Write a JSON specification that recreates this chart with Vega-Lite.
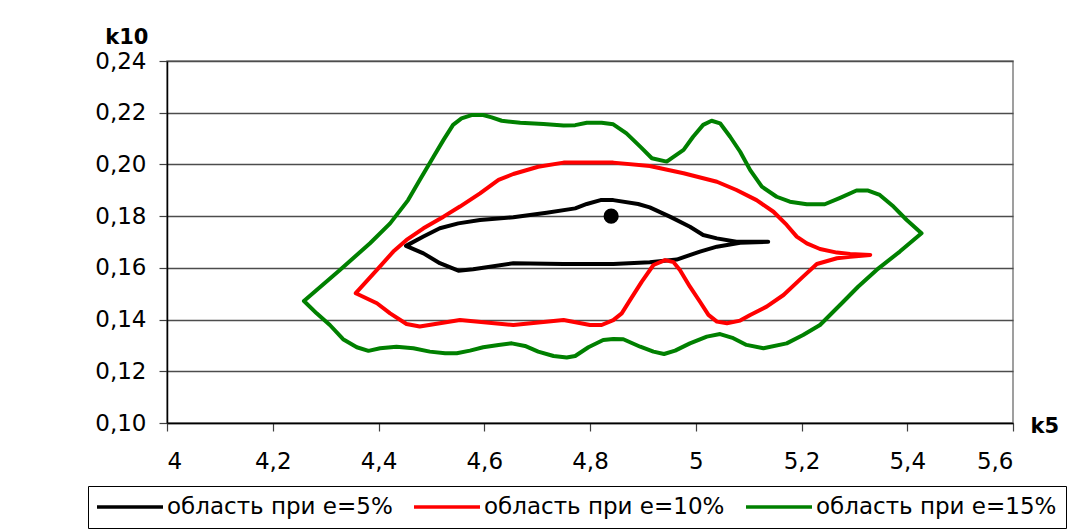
{
  "$schema": "https://vega.github.io/schema/vega-lite/v6.json",
  "width": 846,
  "height": 362,
  "autosize": "none",
  "padding": {"left": 167, "top": 61, "right": 54, "bottom": 106},
  "background": "white",
  "config": {
    "font": "DejaVu Sans",
    "view": {"stroke": "#808080", "strokeWidth": 1.5}
  },
  "datasets": {
    "contours": [
      {"s": "область при е=5%", "i": 1, "x": 4.452, "y": 0.1685},
      {"s": "область при е=5%", "i": 2, "x": 4.485, "y": 0.1721},
      {"s": "область при е=5%", "i": 3, "x": 4.516, "y": 0.1753},
      {"s": "область при е=5%", "i": 4, "x": 4.551, "y": 0.1772},
      {"s": "область при е=5%", "i": 5, "x": 4.592, "y": 0.1785},
      {"s": "область при е=5%", "i": 6, "x": 4.655, "y": 0.1796},
      {"s": "область при е=5%", "i": 7, "x": 4.718, "y": 0.1813},
      {"s": "область при е=5%", "i": 8, "x": 4.772, "y": 0.183},
      {"s": "область при е=5%", "i": 9, "x": 4.794, "y": 0.1847},
      {"s": "область при е=5%", "i": 10, "x": 4.82, "y": 0.1862},
      {"s": "область при е=5%", "i": 11, "x": 4.844, "y": 0.1862},
      {"s": "область при е=5%", "i": 12, "x": 4.891, "y": 0.1847},
      {"s": "область при е=5%", "i": 13, "x": 4.913, "y": 0.1834},
      {"s": "область при е=5%", "i": 14, "x": 4.951, "y": 0.1798},
      {"s": "область при е=5%", "i": 15, "x": 4.989, "y": 0.1759},
      {"s": "область при е=5%", "i": 16, "x": 5.014, "y": 0.1727},
      {"s": "область при е=5%", "i": 17, "x": 5.04, "y": 0.1714},
      {"s": "область при е=5%", "i": 18, "x": 5.077, "y": 0.1701},
      {"s": "область при е=5%", "i": 19, "x": 5.137, "y": 0.1701},
      {"s": "область при е=5%", "i": 20, "x": 5.084, "y": 0.1697},
      {"s": "область при е=5%", "i": 21, "x": 5.04, "y": 0.1682},
      {"s": "область при е=5%", "i": 22, "x": 5.008, "y": 0.1663},
      {"s": "область при е=5%", "i": 23, "x": 4.964, "y": 0.1632},
      {"s": "область при е=5%", "i": 24, "x": 4.913, "y": 0.1622},
      {"s": "область при е=5%", "i": 25, "x": 4.844, "y": 0.1615},
      {"s": "область при е=5%", "i": 26, "x": 4.75, "y": 0.1615},
      {"s": "область при е=5%", "i": 27, "x": 4.655, "y": 0.1618},
      {"s": "область при е=5%", "i": 28, "x": 4.579, "y": 0.1595},
      {"s": "область при е=5%", "i": 29, "x": 4.551, "y": 0.1589},
      {"s": "область при е=5%", "i": 30, "x": 4.516, "y": 0.1618},
      {"s": "область при е=5%", "i": 31, "x": 4.485, "y": 0.1656},
      {"s": "область при е=5%", "i": 32, "x": 4.452, "y": 0.1685},

      {"s": "область при е=10%", "i": 1, "x": 4.357, "y": 0.1502},
      {"s": "область при е=10%", "i": 2, "x": 4.397, "y": 0.1592},
      {"s": "область при е=10%", "i": 3, "x": 4.428, "y": 0.1663},
      {"s": "область при е=10%", "i": 4, "x": 4.453, "y": 0.1708},
      {"s": "область при е=10%", "i": 5, "x": 4.485, "y": 0.1753},
      {"s": "область при е=10%", "i": 6, "x": 4.523, "y": 0.1798},
      {"s": "область при е=10%", "i": 7, "x": 4.554, "y": 0.1837},
      {"s": "область при е=10%", "i": 8, "x": 4.592, "y": 0.1888},
      {"s": "область при е=10%", "i": 9, "x": 4.627, "y": 0.194},
      {"s": "область при е=10%", "i": 10, "x": 4.655, "y": 0.1963},
      {"s": "область при е=10%", "i": 11, "x": 4.702, "y": 0.1991},
      {"s": "область при е=10%", "i": 12, "x": 4.75, "y": 0.2007},
      {"s": "область при е=10%", "i": 13, "x": 4.844, "y": 0.2007},
      {"s": "область при е=10%", "i": 14, "x": 4.913, "y": 0.1994},
      {"s": "область при е=10%", "i": 15, "x": 4.977, "y": 0.1966},
      {"s": "область при е=10%", "i": 16, "x": 5.04, "y": 0.1933},
      {"s": "область при е=10%", "i": 17, "x": 5.077, "y": 0.1901},
      {"s": "область при е=10%", "i": 18, "x": 5.115, "y": 0.1862},
      {"s": "область при е=10%", "i": 19, "x": 5.147, "y": 0.1817},
      {"s": "область при е=10%", "i": 20, "x": 5.172, "y": 0.1766},
      {"s": "область при е=10%", "i": 21, "x": 5.191, "y": 0.1721},
      {"s": "область при е=10%", "i": 22, "x": 5.21, "y": 0.1695},
      {"s": "область при е=10%", "i": 23, "x": 5.235, "y": 0.1673},
      {"s": "область при е=10%", "i": 24, "x": 5.267, "y": 0.1659},
      {"s": "область при е=10%", "i": 25, "x": 5.292, "y": 0.1654},
      {"s": "область при е=10%", "i": 26, "x": 5.33, "y": 0.165},
      {"s": "область при е=10%", "i": 27, "x": 5.292, "y": 0.1643},
      {"s": "область при е=10%", "i": 28, "x": 5.267, "y": 0.1637},
      {"s": "область при е=10%", "i": 29, "x": 5.229, "y": 0.1615},
      {"s": "область при е=10%", "i": 30, "x": 5.203, "y": 0.1566},
      {"s": "область при е=10%", "i": 31, "x": 5.166, "y": 0.1495},
      {"s": "область при е=10%", "i": 32, "x": 5.134, "y": 0.145},
      {"s": "область при е=10%", "i": 33, "x": 5.103, "y": 0.1418},
      {"s": "область при е=10%", "i": 34, "x": 5.084, "y": 0.1396},
      {"s": "область при е=10%", "i": 35, "x": 5.059, "y": 0.1386},
      {"s": "область при е=10%", "i": 36, "x": 5.04, "y": 0.1392},
      {"s": "область при е=10%", "i": 37, "x": 5.024, "y": 0.1418},
      {"s": "область при е=10%", "i": 38, "x": 5.008, "y": 0.1469},
      {"s": "область при е=10%", "i": 39, "x": 4.989, "y": 0.1527},
      {"s": "область при е=10%", "i": 40, "x": 4.97, "y": 0.1592},
      {"s": "область при е=10%", "i": 41, "x": 4.958, "y": 0.1622},
      {"s": "область при е=10%", "i": 42, "x": 4.942, "y": 0.163},
      {"s": "область при е=10%", "i": 43, "x": 4.92, "y": 0.1611},
      {"s": "область при е=10%", "i": 44, "x": 4.898, "y": 0.1547},
      {"s": "область при е=10%", "i": 45, "x": 4.876, "y": 0.1476},
      {"s": "область при е=10%", "i": 46, "x": 4.86, "y": 0.1424},
      {"s": "область при е=10%", "i": 47, "x": 4.844, "y": 0.1398},
      {"s": "область при е=10%", "i": 48, "x": 4.822, "y": 0.1379},
      {"s": "область при е=10%", "i": 49, "x": 4.8, "y": 0.1379},
      {"s": "область при е=10%", "i": 50, "x": 4.75, "y": 0.1398},
      {"s": "область при е=10%", "i": 51, "x": 4.655, "y": 0.1379},
      {"s": "область при е=10%", "i": 52, "x": 4.554, "y": 0.1398},
      {"s": "область при е=10%", "i": 53, "x": 4.478, "y": 0.1373},
      {"s": "область при е=10%", "i": 54, "x": 4.453, "y": 0.1383},
      {"s": "область при е=10%", "i": 55, "x": 4.422, "y": 0.1424},
      {"s": "область при е=10%", "i": 56, "x": 4.397, "y": 0.1463},
      {"s": "область при е=10%", "i": 57, "x": 4.357, "y": 0.1502},

      {"s": "область при е=15%", "i": 1, "x": 4.259, "y": 0.1472},
      {"s": "область при е=15%", "i": 2, "x": 4.327, "y": 0.1592},
      {"s": "область при е=15%", "i": 3, "x": 4.384, "y": 0.1695},
      {"s": "область при е=15%", "i": 4, "x": 4.422, "y": 0.1772},
      {"s": "область при е=15%", "i": 5, "x": 4.456, "y": 0.1862},
      {"s": "область при е=15%", "i": 6, "x": 4.478, "y": 0.194},
      {"s": "область при е=15%", "i": 7, "x": 4.504, "y": 0.203},
      {"s": "область при е=15%", "i": 8, "x": 4.523, "y": 0.2095},
      {"s": "область при е=15%", "i": 9, "x": 4.541, "y": 0.2153},
      {"s": "область при е=15%", "i": 10, "x": 4.557, "y": 0.2178},
      {"s": "область при е=15%", "i": 11, "x": 4.576, "y": 0.2191},
      {"s": "область при е=15%", "i": 12, "x": 4.598, "y": 0.2191},
      {"s": "область при е=15%", "i": 13, "x": 4.614, "y": 0.2182},
      {"s": "область при е=15%", "i": 14, "x": 4.633, "y": 0.2169},
      {"s": "область при е=15%", "i": 15, "x": 4.668, "y": 0.2161},
      {"s": "область при е=15%", "i": 16, "x": 4.712, "y": 0.2156},
      {"s": "область при е=15%", "i": 17, "x": 4.75, "y": 0.2151},
      {"s": "область при е=15%", "i": 18, "x": 4.772, "y": 0.2152},
      {"s": "область при е=15%", "i": 19, "x": 4.794, "y": 0.2161},
      {"s": "область при е=15%", "i": 20, "x": 4.822, "y": 0.2161},
      {"s": "область при е=15%", "i": 21, "x": 4.844, "y": 0.2155},
      {"s": "область при е=15%", "i": 22, "x": 4.869, "y": 0.212},
      {"s": "область при е=15%", "i": 23, "x": 4.895, "y": 0.2069},
      {"s": "область при е=15%", "i": 24, "x": 4.917, "y": 0.2024},
      {"s": "область при е=15%", "i": 25, "x": 4.945, "y": 0.2011},
      {"s": "область при е=15%", "i": 26, "x": 4.977, "y": 0.2056},
      {"s": "область при е=15%", "i": 27, "x": 4.995, "y": 0.2107},
      {"s": "область при е=15%", "i": 28, "x": 5.014, "y": 0.2153},
      {"s": "область при е=15%", "i": 29, "x": 5.03, "y": 0.2169},
      {"s": "область при е=15%", "i": 30, "x": 5.046, "y": 0.2159},
      {"s": "область при е=15%", "i": 31, "x": 5.065, "y": 0.2107},
      {"s": "область при е=15%", "i": 32, "x": 5.084, "y": 0.2049},
      {"s": "область при е=15%", "i": 33, "x": 5.103, "y": 0.1978},
      {"s": "область при е=15%", "i": 34, "x": 5.125, "y": 0.1914},
      {"s": "область при е=15%", "i": 35, "x": 5.153, "y": 0.1875},
      {"s": "область при е=15%", "i": 36, "x": 5.178, "y": 0.1856},
      {"s": "область при е=15%", "i": 37, "x": 5.21, "y": 0.1846},
      {"s": "область при е=15%", "i": 38, "x": 5.244, "y": 0.1846},
      {"s": "область при е=15%", "i": 39, "x": 5.273, "y": 0.1871},
      {"s": "область при е=15%", "i": 40, "x": 5.304, "y": 0.1899},
      {"s": "область при е=15%", "i": 41, "x": 5.326, "y": 0.1899},
      {"s": "область при е=15%", "i": 42, "x": 5.348, "y": 0.1882},
      {"s": "область при е=15%", "i": 43, "x": 5.374, "y": 0.1837},
      {"s": "область при е=15%", "i": 44, "x": 5.399, "y": 0.1785},
      {"s": "область при е=15%", "i": 45, "x": 5.427, "y": 0.1734},
      {"s": "область при е=15%", "i": 46, "x": 5.386, "y": 0.1663},
      {"s": "область при е=15%", "i": 47, "x": 5.342, "y": 0.1592},
      {"s": "область при е=15%", "i": 48, "x": 5.307, "y": 0.1527},
      {"s": "область при е=15%", "i": 49, "x": 5.279, "y": 0.1469},
      {"s": "область при е=15%", "i": 50, "x": 5.235, "y": 0.1379},
      {"s": "область при е=15%", "i": 51, "x": 5.203, "y": 0.134},
      {"s": "область при е=15%", "i": 52, "x": 5.172, "y": 0.1308},
      {"s": "область при е=15%", "i": 53, "x": 5.128, "y": 0.1289},
      {"s": "область при е=15%", "i": 54, "x": 5.096, "y": 0.1302},
      {"s": "область при е=15%", "i": 55, "x": 5.071, "y": 0.1328},
      {"s": "область при е=15%", "i": 56, "x": 5.046, "y": 0.1344},
      {"s": "область при е=15%", "i": 57, "x": 5.021, "y": 0.1334},
      {"s": "область при е=15%", "i": 58, "x": 4.989, "y": 0.1308},
      {"s": "область при е=15%", "i": 59, "x": 4.961, "y": 0.128},
      {"s": "область при е=15%", "i": 60, "x": 4.94, "y": 0.1267},
      {"s": "область при е=15%", "i": 61, "x": 4.92, "y": 0.1276},
      {"s": "область при е=15%", "i": 62, "x": 4.895, "y": 0.1295},
      {"s": "область при е=15%", "i": 63, "x": 4.863, "y": 0.1324},
      {"s": "область при е=15%", "i": 64, "x": 4.844, "y": 0.1325},
      {"s": "область при е=15%", "i": 65, "x": 4.825, "y": 0.1321},
      {"s": "область при е=15%", "i": 66, "x": 4.797, "y": 0.1293},
      {"s": "область при е=15%", "i": 67, "x": 4.772, "y": 0.1259},
      {"s": "область при е=15%", "i": 68, "x": 4.756, "y": 0.1253},
      {"s": "область при е=15%", "i": 69, "x": 4.731, "y": 0.1259},
      {"s": "область при е=15%", "i": 70, "x": 4.702, "y": 0.1276},
      {"s": "область при е=15%", "i": 71, "x": 4.677, "y": 0.1298},
      {"s": "область при е=15%", "i": 72, "x": 4.652, "y": 0.1308},
      {"s": "область при е=15%", "i": 73, "x": 4.627, "y": 0.1302},
      {"s": "область при е=15%", "i": 74, "x": 4.598, "y": 0.1293},
      {"s": "область при е=15%", "i": 75, "x": 4.573, "y": 0.128},
      {"s": "область при е=15%", "i": 76, "x": 4.548, "y": 0.127},
      {"s": "область при е=15%", "i": 77, "x": 4.526, "y": 0.127},
      {"s": "область при е=15%", "i": 78, "x": 4.497, "y": 0.1276},
      {"s": "область при е=15%", "i": 79, "x": 4.466, "y": 0.1289},
      {"s": "область при е=15%", "i": 80, "x": 4.434, "y": 0.1295},
      {"s": "область при е=15%", "i": 81, "x": 4.403, "y": 0.1289},
      {"s": "область при е=15%", "i": 82, "x": 4.381, "y": 0.1279},
      {"s": "область при е=15%", "i": 83, "x": 4.359, "y": 0.1293},
      {"s": "область при е=15%", "i": 84, "x": 4.333, "y": 0.1324},
      {"s": "область при е=15%", "i": 85, "x": 4.308, "y": 0.1379},
      {"s": "область при е=15%", "i": 86, "x": 4.283, "y": 0.1424},
      {"s": "область при е=15%", "i": 87, "x": 4.259, "y": 0.1472}
    ],
    "centre": [
      {"x": 4.84, "y": 0.18}
    ]
  },
  "layer": [
    {
      "data": {"name": "contours"},
      "mark": {"type": "line", "strokeWidth": 4, "strokeJoin": "round", "strokeCap": "round", "clip": true},
      "encoding": {
        "x": {
          "field": "x", "type": "quantitative",
          "scale": {"domain": [4, 5.6], "nice": false, "zero": false},
          "axis": {
            "values": [4, 4.2, 4.4, 4.6, 4.8, 5, 5.2, 5.4, 5.6],
            "labelExpr": "replace(format(datum.value, '.1~f'), '.', ',')",
            "grid": false,
            "labelFontSize": 23, "labelColor": "black", "labelPadding": 19,
            "tickSize": 8, "tickColor": "#404040", "tickWidth": 1.2,
            "domainColor": "black", "domainWidth": 1.5,
            "title": "k5", "titleFontSize": 21, "titleFontWeight": "bold", "titleColor": "black",
            "titleX": 863, "titleY": 9, "titleAlign": "left", "titleBaseline": "alphabetic", "titleAnchor": null
          }
        },
        "y": {
          "field": "y", "type": "quantitative",
          "scale": {"domain": [0.1, 0.24], "nice": false, "zero": false},
          "axis": {
            "values": [0.1, 0.12, 0.14, 0.16, 0.18, 0.2, 0.22, 0.24],
            "labelExpr": "replace(format(datum.value, '.2f'), '.', ',')",
            "grid": true, "gridColor": "#4d4d4d", "gridWidth": 1.3,
            "labelFontSize": 23, "labelColor": "black", "labelPadding": 13,
            "tickSize": 8, "tickColor": "#404040", "tickWidth": 1.2,
            "domainColor": "black", "domainWidth": 1.5,
            "title": "k10", "titleFontSize": 21, "titleFontWeight": "bold", "titleColor": "black",
            "titleAngle": 0, "titleX": -19, "titleY": -18, "titleAlign": "right", "titleBaseline": "alphabetic", "titleAnchor": null
          }
        },
        "order": {"field": "i", "type": "quantitative"},
        "color": {
          "field": "s", "type": "nominal",
          "scale": {
            "domain": ["область при е=5%", "область при е=10%", "область при е=15%"],
            "range": ["#000000", "#ff0000", "#008000"]
          },
          "legend": {
            "title": null,
            "orient": "none", "legendX": -79, "legendY": 425,
            "direction": "horizontal", "columns": 3,
            "symbolType": "M-1.2,0H5.4", "symbolSize": 400, "symbolStrokeWidth": 3.5,
            "labelFontSize": 23, "labelColor": "black", "labelOffset": 46, "labelLimit": 400,
            "columnPadding": 14, "padding": 9,
            "strokeColor": "#000000", "fillColor": "white"
          }
        }
      }
    },
    {
      "data": {"name": "centre"},
      "mark": {"type": "circle", "size": 230, "color": "black", "opacity": 1},
      "encoding": {
        "x": {"field": "x", "type": "quantitative", "title": "k5"},
        "y": {"field": "y", "type": "quantitative", "title": "k10"}
      }
    }
  ]
}
